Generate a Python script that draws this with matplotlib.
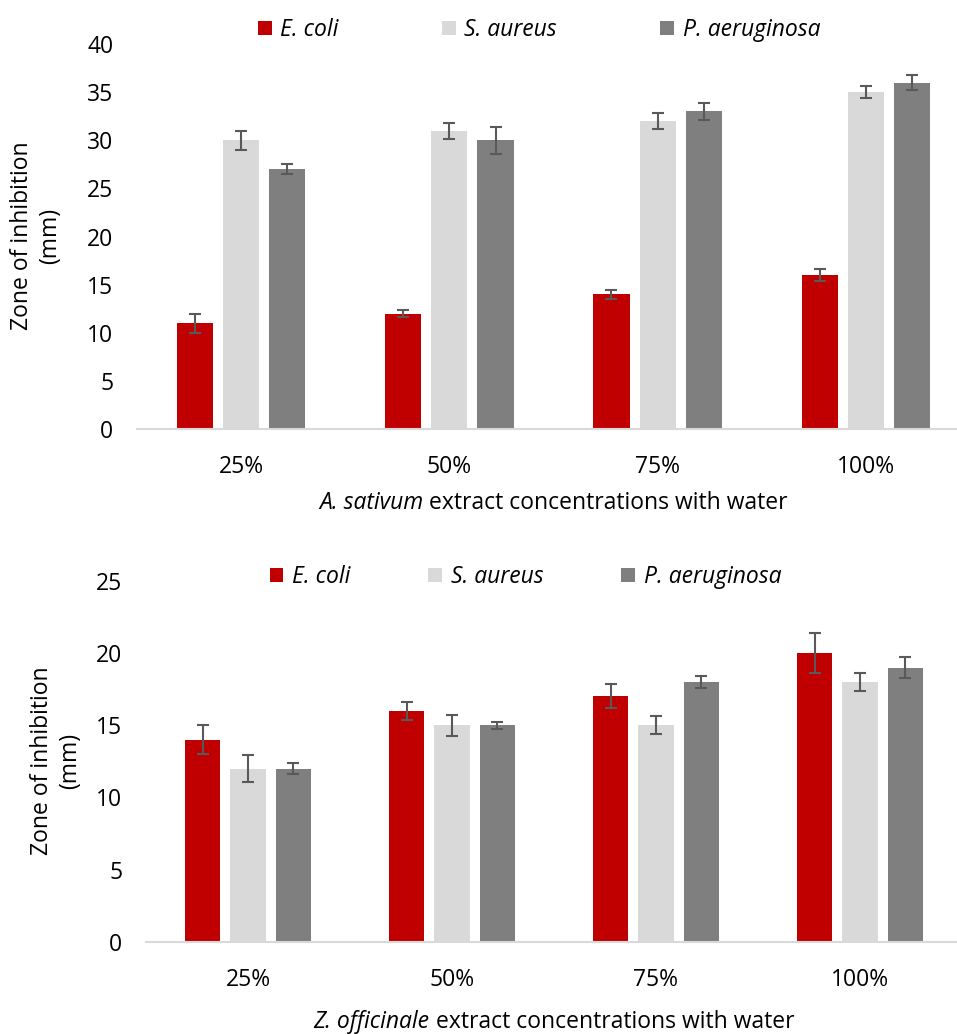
import matplotlib
matplotlib.use("Agg")
import matplotlib.pyplot as plt
from matplotlib.offsetbox import TextArea, HPacker, AnchoredOffsetbox
import numpy as np

plt.rcParams['font.family'] = ['Open Sans', 'DejaVu Sans']

# Concentration levels
concentrations = ['25%', '50%', '75%', '100%']
species = ['E. coli', 'S. aureus', 'P. aeruginosa']

# A. sativum: zone of inhibition (mm) and standard deviation
sativum_ecoli = [11, 12, 14, 16]
sativum_saureus = [30, 31, 32, 35]
sativum_paeru = [27, 30, 33, 36]
sativum_ecoli_err = [1.0, 0.33, 0.45, 0.64]
sativum_saureus_err = [0.97, 0.83, 0.83, 0.64]
sativum_paeru_err = [0.5, 1.4, 0.85, 0.83]

# Z. officinale: zone of inhibition (mm) and standard deviation
officinale_ecoli = [14, 16, 17, 20]
officinale_saureus = [12, 15, 15, 18]
officinale_paeru = [12, 15, 18, 19]
officinale_ecoli_err = [1.0, 0.62, 0.83, 1.39]
officinale_saureus_err = [0.95, 0.71, 0.61, 0.62]
officinale_paeru_err = [0.4, 0.24, 0.41, 0.7]

colors = ['#C00000', '#D9D9D9', '#7F7F7F']
FS = 16.5
W, H = 957, 1034
fig = plt.figure(figsize=(W / 100, H / 100), dpi=100)


def px_axes(left, top, right, bottom):
    return fig.add_axes([left / W, 1 - bottom / H, (right - left) / W, (bottom - top) / H])


def mixed_xlabel(ax, italic_part, rest, y):
    # Species name in italics followed by upright text, centred under the axes
    parts = [TextArea(italic_part, textprops=dict(fontsize=FS, fontstyle='italic')),
             TextArea(rest, textprops=dict(fontsize=FS))]
    box = HPacker(children=parts, align='baseline', pad=0, sep=0)
    anchored = AnchoredOffsetbox(loc='center', child=box, pad=0, frameon=False,
                                 bbox_to_anchor=(0.5, y),
                                 bbox_transform=ax.transAxes, borderpad=0)
    ax.add_artist(anchored)


def draw_panel(ax, series, errors, ymax, ystep, legend_anchor, colspacing):
    x = np.arange(len(concentrations))
    width = 0.174
    pitch = 0.222
    handles = []
    for i, (vals, errs) in enumerate(zip(series, errors)):
        pos = x + (i - 1) * pitch
        b = ax.bar(pos, vals, width=width, color=colors[i], zorder=2)
        ax.errorbar(pos, vals, yerr=errs, fmt='none', ecolor='#595959',
                    elinewidth=1.5, capsize=4.3, capthick=1.5, zorder=3)
        handles.append(b)
    ax.set_xlim(-0.5, len(concentrations) - 0.5)
    ax.set_ylim(0, ymax)
    ax.set_yticks(np.arange(0, ymax + 0.1, ystep))
    ax.set_xticks(x)
    ax.set_xticklabels(concentrations)
    for s in ['top', 'right', 'left']:
        ax.spines[s].set_visible(False)
    ax.spines['bottom'].set_color('#D9D9D9')
    ax.spines['bottom'].set_linewidth(1.5)
    ax.tick_params(axis='both', length=0, labelsize=FS, colors='#000000')
    ax.tick_params(axis='y', pad=17)
    ax.tick_params(axis='x', pad=19)
    leg = ax.legend(handles, species, loc='center', bbox_to_anchor=legend_anchor,
                    ncol=3, frameon=False, fontsize=FS, handlelength=0.6,
                    handleheight=0.6, handletextpad=0.38, columnspacing=colspacing,
                    borderaxespad=0)
    for t in leg.get_texts():
        t.set_fontstyle('italic')
    return ax


ax1 = px_axes(137, 44, 970, 429)
draw_panel(ax1, [sativum_ecoli, sativum_saureus, sativum_paeru],
           [sativum_ecoli_err, sativum_saureus_err, sativum_paeru_err],
           40, 5, (0.4826, 1.036), 4.5)
mixed_xlabel(ax1, 'A. sativum', ' extract concentrations with water', -0.192)
fig.text(36 / W, 1 - 236 / H, 'Zone of inhibition\n(mm)', rotation=90,
         ha='center', va='center', fontsize=FS, multialignment='center')

ax2 = px_axes(146, 581, 962, 941.7)
draw_panel(ax2, [officinale_ecoli, officinale_saureus, officinale_paeru],
           [officinale_ecoli_err, officinale_saureus_err, officinale_paeru_err],
           25, 5, (0.465, 1.011), 3.4)
mixed_xlabel(ax2, 'Z. officinale', ' extract concentrations with water', -0.2226)
fig.text(56 / W, 1 - 761 / H, 'Zone of inhibition\n(mm)', rotation=90,
         ha='center', va='center', fontsize=FS, multialignment='center')

fig.savefig('out.png', dpi=100, facecolor='white')
